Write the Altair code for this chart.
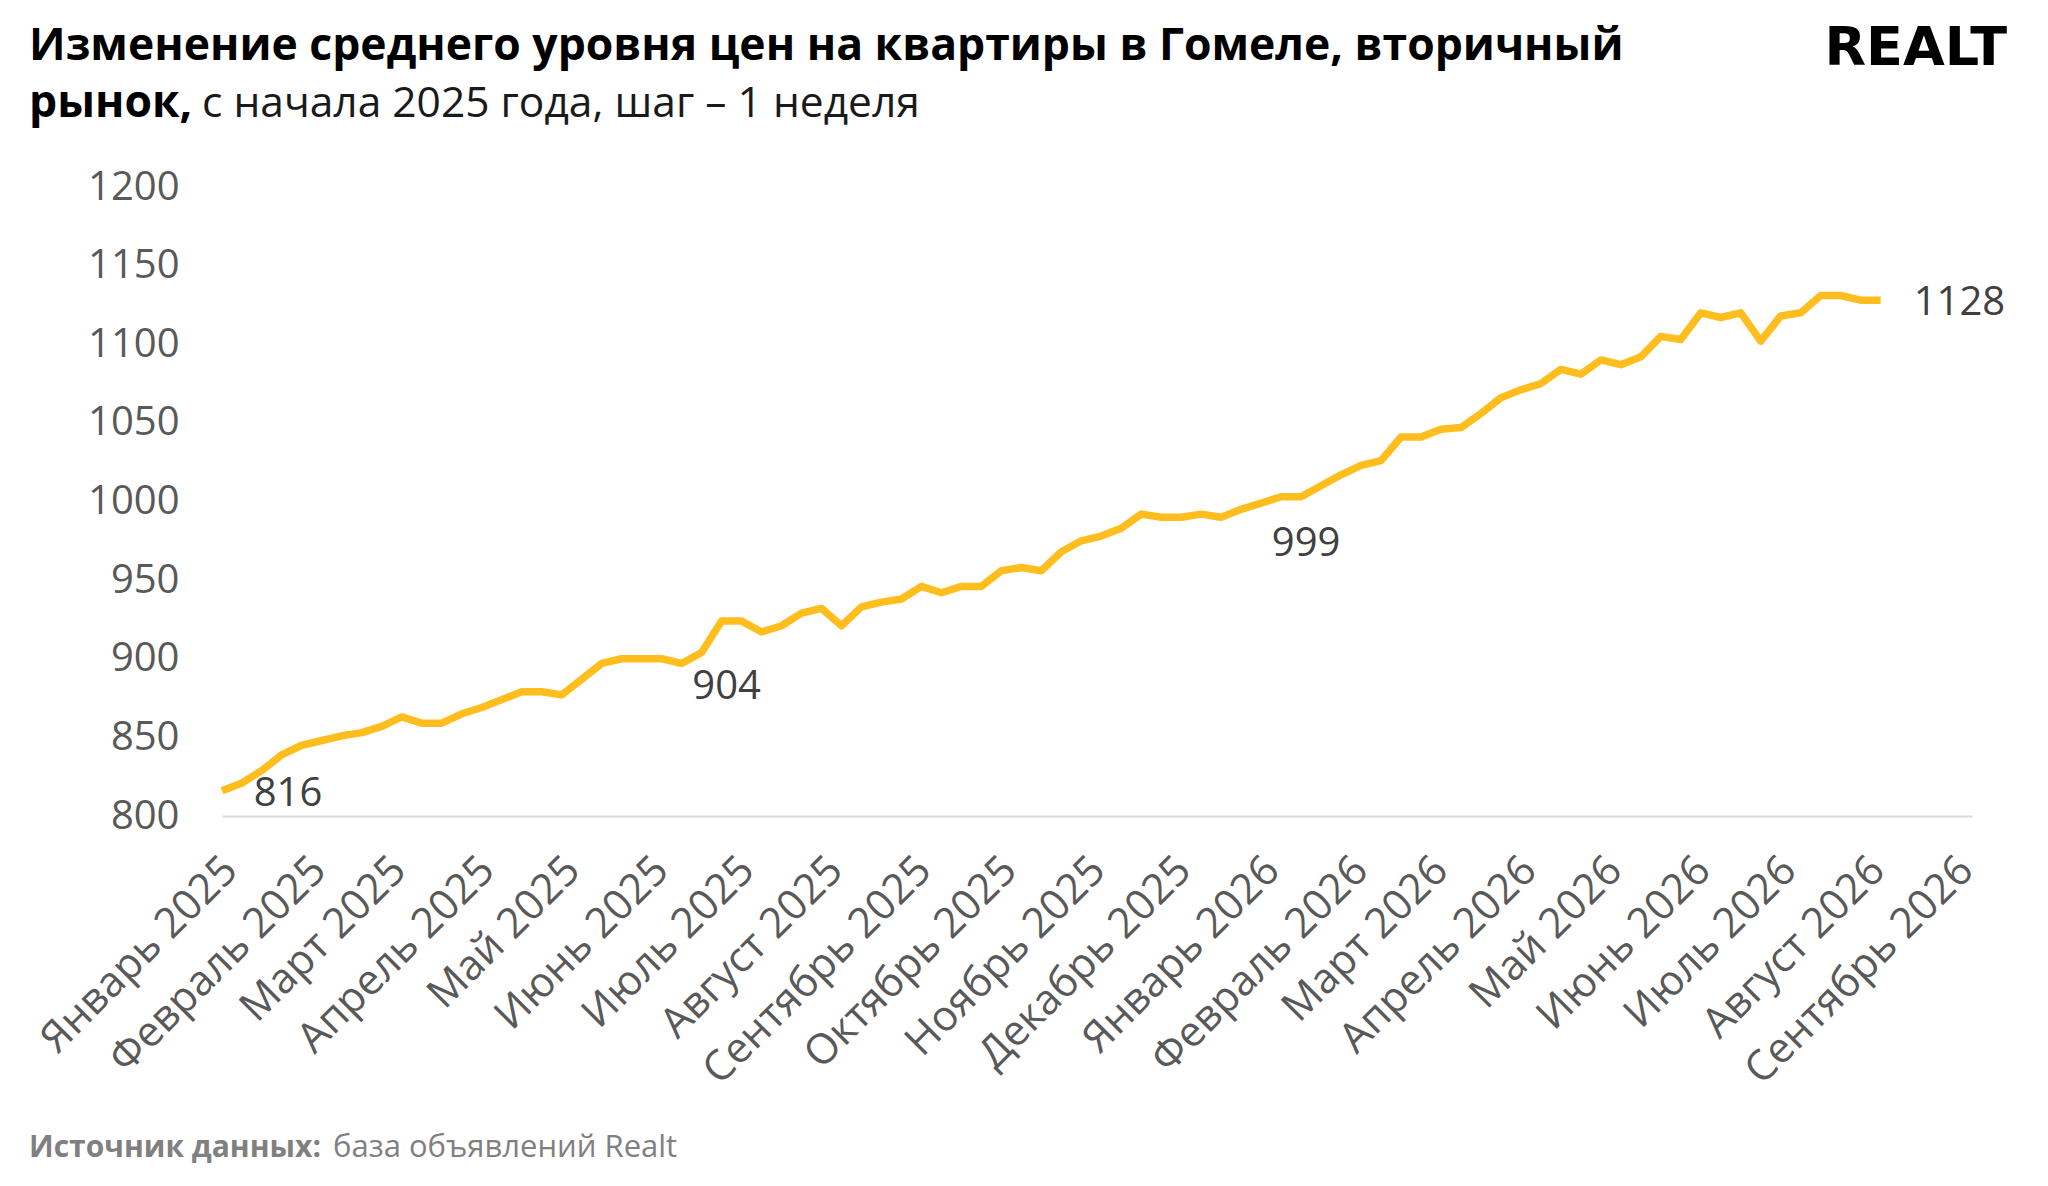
import altair as alt
import pandas as pd

FONT = "Open Sans"

# weekly average price, USD per m2, Gomel secondary market
START = "2025-01-01"
VALUES = [816, 821, 829, 839, 845, 848, 851, 853, 857, 863,
          859, 859, 865, 869, 874, 879, 879, 877, 887, 897,
          900, 900, 900, 897, 904, 924, 924, 917, 921, 929,
          932, 921, 933, 936, 938, 946, 942, 946, 946, 956,
          958, 956, 968, 975, 978, 983, 992, 990, 990, 992,
          990, 995, 999, 1003, 1003, 1010, 1017, 1023, 1026, 1041,
          1041, 1046, 1047, 1056, 1066, 1071, 1075, 1084, 1081, 1090,
          1087, 1092, 1105, 1103, 1120, 1117, 1120, 1102, 1118, 1120,
          1131, 1131, 1128, 1128]

MONTH_LABELS = ["Январь 2025", "Февраль 2025", "Март 2025", "Апрель 2025", "Май 2025",
                "Июнь 2025", "Июль 2025", "Август 2025", "Сентябрь 2025", "Октябрь 2025",
                "Ноябрь 2025", "Декабрь 2025", "Январь 2026", "Февраль 2026", "Март 2026",
                "Апрель 2026", "Май 2026", "Июнь 2026", "Июль 2026", "Август 2026",
                "Сентябрь 2026"]
Y_TICKS = [800, 850, 900, 950, 1000, 1050, 1100, 1150, 1200]
LABELLED_WEEKS = [0, 24, 52, 83]

TITLE_1 = "Изменение среднего уровня цен на квартиры в Гомеле, вторичный"
TITLE_2_BOLD = "рынок,"
TITLE_2_REG = "с начала 2025 года, шаг – 1 неделя"
SOURCE_BOLD = "Источник данных:"
SOURCE_REG = "база объявлений Realt"
LOGO = "REALT"

dates = pd.date_range(START, periods=len(VALUES), freq="7D")
df = pd.DataFrame({"date": dates.strftime("%Y-%m-%dT00:00:00"), "value": VALUES,
                   "week": list(range(len(VALUES)))})

month_ticks = [alt.DateTime(year=2025 + i // 12, month=i % 12 + 1, date=1)
               for i in range(len(MONTH_LABELS))]
label_arr = "[" + ",".join("'" + s + "'" for s in MONTH_LABELS) + "]"
label_expr = label_arr + "[(year(datum.value)-2025)*12 + month(datum.value)]"

x_scale = alt.Scale(domain=[alt.DateTime(year=2025, month=1, date=1),
                            alt.DateTime(year=2026, month=9, date=6)])
y_scale = alt.Scale(domain=[800, 1200], nice=False, zero=False)

base = alt.Chart(df)

line = base.mark_line(color="#FFBE1E", strokeWidth=7.5, strokeJoin="round").encode(
    x=alt.X("date:T", scale=x_scale,
            axis=alt.Axis(title=None, values=month_ticks, labelExpr=label_expr,
                          labelAngle=315, labelAlign="right", labelBaseline="middle",
                          labelPadding=47, labelOffset=8, labelFont=FONT,
                          labelFontSize=42, labelColor="#595959", labelOverlap=False,
                          labelBound=False, labelFlush=False, labelLimit=600,
                          ticks=False, grid=False, domainColor="#d9d9d9",
                          domainWidth=2)),
    y=alt.Y("value:Q", scale=y_scale,
            axis=alt.Axis(title=None, values=Y_TICKS, format="d", labelFont=FONT,
                          labelFontSize=40, labelColor="#595959", labelPadding=43,
                          ticks=False, domain=False, grid=False)),
)


def point_label(week, dx, dy, align="center"):
    return base.transform_filter(alt.datum.week == week).mark_text(
        font=FONT, fontSize=40, color="#404040", align=align, baseline="middle",
        dx=dx, dy=dy).encode(
        x="date:T", y="value:Q", text=alt.Text("value:Q", format=".0f"))


labels = [point_label(LABELLED_WEEKS[0], 66, 3),
          point_label(LABELLED_WEEKS[1], 25, 35),
          point_label(LABELLED_WEEKS[2], 45, 41),
          point_label(LABELLED_WEEKS[3], 33, 3, align="left")]


def txt(text, x, y, size, weight, color, align="left", font=FONT):
    return alt.Chart(pd.DataFrame({"t": [text]})).mark_text(
        align=align, baseline="alphabetic", fontSize=size, fontWeight=weight,
        color=color, font=font).encode(x=alt.value(x), y=alt.value(y), text="t:N")


texts = [
    txt(TITLE_1, -193, -127, 44.5, "bold", "#000000"),
    txt(TITLE_2_BOLD, -193, -70, 44.5, "bold", "#000000"),
    txt(TITLE_2_REG, -20, -70, 42.5, "normal", "#1a1a1a"),
    txt(SOURCE_BOLD, -193, 970, 30, "bold", "#808080"),
    txt(SOURCE_REG, 111, 970, 31, "normal", "#808080"),
    txt(LOGO, 1785, -122, 54, "bold", "#000000", align="right", font="DejaVu Sans"),
]

chart = alt.layer(line, *labels, *texts).properties(
    width=1750, height=629,
    padding={"left": 214, "top": 179, "right": 60, "bottom": 352},
    autosize=alt.AutoSizeParams(type="none"),
    background="white",
).configure_view(strokeWidth=0, stroke=None)

chart.save("out.html", embed_options={"renderer": "svg", "actions": False})
